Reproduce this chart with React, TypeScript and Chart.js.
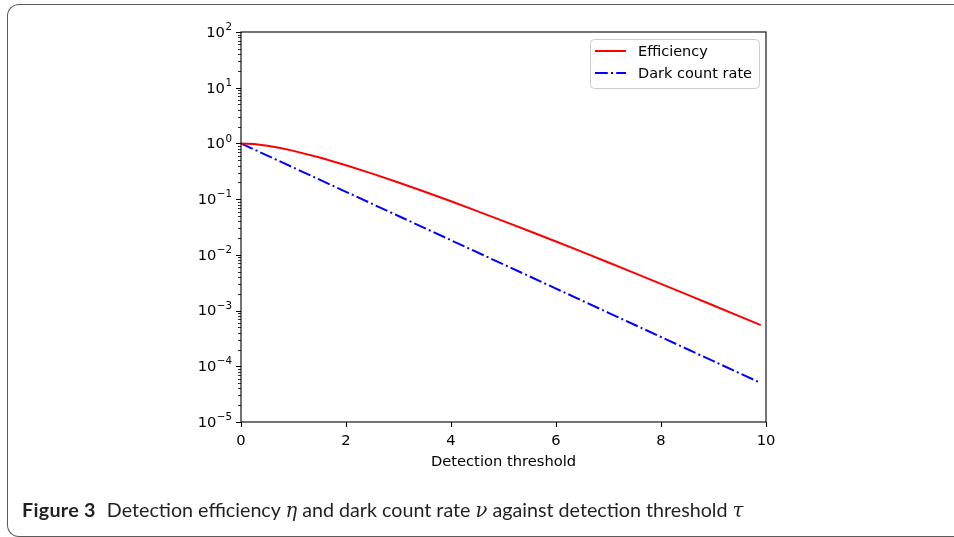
import React, { useEffect, useRef } from "react";
import { Chart, registerables } from "chart.js";

Chart.register(...registerables);

// Detection threshold τ (x) and efficiency η values
const effTau = [0, 0.25, 0.5, 0.75, 1, 1.5, 2, 2.5, 3, 3.5, 4, 4.5, 5, 5.5, 6, 6.5, 7, 7.5, 8, 8.5, 9, 9.5, 9.9];
const efficiency = [
  1, 0.9735, 0.9098, 0.8266, 0.7358, 0.5578, 0.406, 0.2873, 0.1991, 0.1359, 0.0916, 0.0611, 0.0404,
  0.02656, 0.01735, 0.01128, 0.007295, 0.004701, 0.003019, 0.001933, 0.001234, 0.000786, 0.000547,
];

// Dark count rate ν
const darkTau = [0, 1, 2, 3, 4, 5, 6, 7, 8, 9, 9.9];
const darkCount = [1, 0.3679, 0.1353, 0.04979, 0.01832, 0.006738, 0.002479, 0.000912, 0.0003355, 0.0001234, 0.0000502];

const xTickValues = [0, 2, 4, 6, 8, 10];
const yDecades = [-5, -4, -3, -2, -1, 0, 1, 2];

const seriesNames = ["Efficiency", "Dark count rate"];
const seriesColors = ["#ff0000", "#0000ff"];
const dashDot = [12.8, 3.2, 2, 3.2];

const FONT = "'DejaVu Sans', sans-serif";

const framePlugin = {
  id: "mplFrame",
  afterDatasetsDraw(chart: any) {
    const { ctx, chartArea } = chart;
    const { left, right, top, bottom } = chartArea;
    const xs = chart.scales.x;
    const ys = chart.scales.y;
    ctx.save();
    ctx.strokeStyle = "#000";
    ctx.lineWidth = 1.1;
    ctx.setLineDash([]);
    ctx.strokeRect(left, top, right - left, bottom - top);
    // x ticks
    ctx.beginPath();
    xTickValues.forEach((v) => {
      const px = Math.round(xs.getPixelForValue(v)) + 0.5;
      ctx.moveTo(px, bottom);
      ctx.lineTo(px, bottom + 5);
    });
    // y major ticks
    yDecades.forEach((e) => {
      const py = Math.round(ys.getPixelForValue(Math.pow(10, e))) + 0.5;
      ctx.moveTo(left, py);
      ctx.lineTo(left - 5, py);
    });
    ctx.stroke();
    // y minor ticks
    ctx.lineWidth = 0.8;
    ctx.beginPath();
    yDecades.slice(0, -1).forEach((e) => {
      for (let m = 2; m <= 9; m++) {
        const py = Math.round(ys.getPixelForValue(m * Math.pow(10, e))) + 0.5;
        ctx.moveTo(left, py);
        ctx.lineTo(left - 3, py);
      }
    });
    ctx.stroke();

    // y tick labels, mathtext style 10^e
    ctx.fillStyle = "#000";
    ctx.textAlign = "right";
    ctx.textBaseline = "middle";
    yDecades.forEach((e) => {
      const py = ys.getPixelForValue(Math.pow(10, e));
      const expText = e < 0 ? "\u2212" + String(-e) : String(e);
      ctx.font = "10.3px " + FONT;
      const ew = ctx.measureText(expText).width;
      const xr = left - 9;
      ctx.fillText(expText, xr, py - 4.5);
      ctx.font = "14.7px " + FONT;
      ctx.fillText("10", xr - ew - 0.5, py + 1);
    });

    // legend
    const lw = 169;
    const lh = 49;
    const lx = right - 7 - lw;
    const ly = top + 7;
    ctx.beginPath();
    (ctx as any).roundRect(lx + 0.5, ly + 0.5, lw, lh, 4);
    ctx.fillStyle = "rgba(255,255,255,0.8)";
    ctx.fill();
    ctx.strokeStyle = "#cccccc";
    ctx.lineWidth = 1;
    ctx.stroke();
    seriesNames.forEach((name, i) => {
      const cy = ly + 12 + i * 22;
      ctx.beginPath();
      ctx.strokeStyle = seriesColors[i];
      ctx.lineWidth = 2;
      ctx.setLineDash(i === 1 ? dashDot : []);
      ctx.moveTo(lx + 5, cy);
      ctx.lineTo(lx + 36, cy);
      ctx.stroke();
      ctx.setLineDash([]);
      ctx.fillStyle = "#000";
      ctx.font = "14.5px " + FONT;
      ctx.textBaseline = "middle";
      ctx.textAlign = "left";
      ctx.fillText(name, lx + 48, cy + 1);
    });
    ctx.restore();
  },
};

export default function App() {
  const canvasRef = useRef<HTMLCanvasElement | null>(null);

  useEffect(() => {
    if (!canvasRef.current) return;
    const chart = new Chart(canvasRef.current, {
      type: "line",
      data: {
        datasets: [
          {
            label: seriesNames[0],
            data: effTau.map((x, i) => ({ x, y: efficiency[i] })),
            borderColor: seriesColors[0],
            borderWidth: 2,
            pointRadius: 0,
            tension: 0,
            fill: false,
          },
          {
            label: seriesNames[1],
            data: darkTau.map((x, i) => ({ x, y: darkCount[i] })),
            borderColor: seriesColors[1],
            borderWidth: 2,
            borderDash: dashDot,
            borderCapStyle: "butt",
            pointRadius: 0,
            tension: 0,
            fill: false,
          },
        ],
      },
      options: {
        animation: false,
        responsive: false,
        maintainAspectRatio: false,
        layout: { padding: { top: 32, right: 188, bottom: 0, left: 0 } },
        plugins: { legend: { display: false }, tooltip: { enabled: false } },
        scales: {
          x: {
            type: "linear",
            min: 0,
            max: 10,
            grid: { display: false, drawTicks: false },
            border: { display: false },
            afterBuildTicks: (scale: any) => {
              scale.ticks = xTickValues.map((v) => ({ value: v }));
            },
            afterFit: (scale: any) => {
              scale.height = 115;
            },
            ticks: {
              padding: 10,
              color: "#000",
              font: { family: FONT, size: 14.7 },
              maxRotation: 0,
              callback: (v: any) => String(v),
            },
            title: {
              display: true,
              text: "Detection threshold",
              color: "#000",
              font: { family: FONT, size: 14.7 },
              padding: { top: 0, bottom: 66 },
            },
          },
          y: {
            type: "logarithmic",
            min: 1e-5,
            max: 1e2,
            grid: { display: false, drawTicks: false },
            border: { display: false },
            afterBuildTicks: (scale: any) => {
              scale.ticks = yDecades.map((e) => ({ value: Math.pow(10, e) }));
            },
            afterFit: (scale: any) => {
              scale.width = 241;
            },
            ticks: { display: false },
          },
        },
      },
      plugins: [framePlugin],
    } as any);
    return () => chart.destroy();
  }, []);

  const greek: React.CSSProperties = { fontFamily: "'DejaVu Serif', serif", fontStyle: "italic", fontSize: 19.5 };

  return (
    <div style={{ position: "fixed", left: 0, top: 0, width: 954, height: 537, background: "#fff", overflow: "hidden" }}>
      <div
        style={{
          position: "absolute",
          left: 7,
          top: 4,
          width: 1100,
          height: 531,
          borderTop: "1.5px solid #5a5a5a",
          borderLeft: "1.5px solid #5a5a5a",
          borderBottom: "1.5px solid #5a5a5a",
          borderRight: "none",
          borderTopLeftRadius: 12,
          borderBottomLeftRadius: 12,
        }}
      />
      <canvas ref={canvasRef} width={954} height={537} style={{ position: "absolute", left: 0, top: 0, width: 954, height: 537 }} />
      <div
        style={{
          position: "absolute",
          left: 22,
          top: 498,
          fontFamily: "Lato, sans-serif",
          fontSize: 19.7,
          color: "#231f20",
          whiteSpace: "nowrap",
        }}
      >
        <b style={{ letterSpacing: 0.3 }}>Figure 3</b>
        <span style={{ marginLeft: 11 }}>Detection efficiency </span>
        <span style={greek}>η</span>
        <span> and dark count rate </span>
        <span style={greek}>ν</span>
        <span> against detection threshold </span>
        <span style={greek}>τ</span>
      </div>
    </div>
  );
}
